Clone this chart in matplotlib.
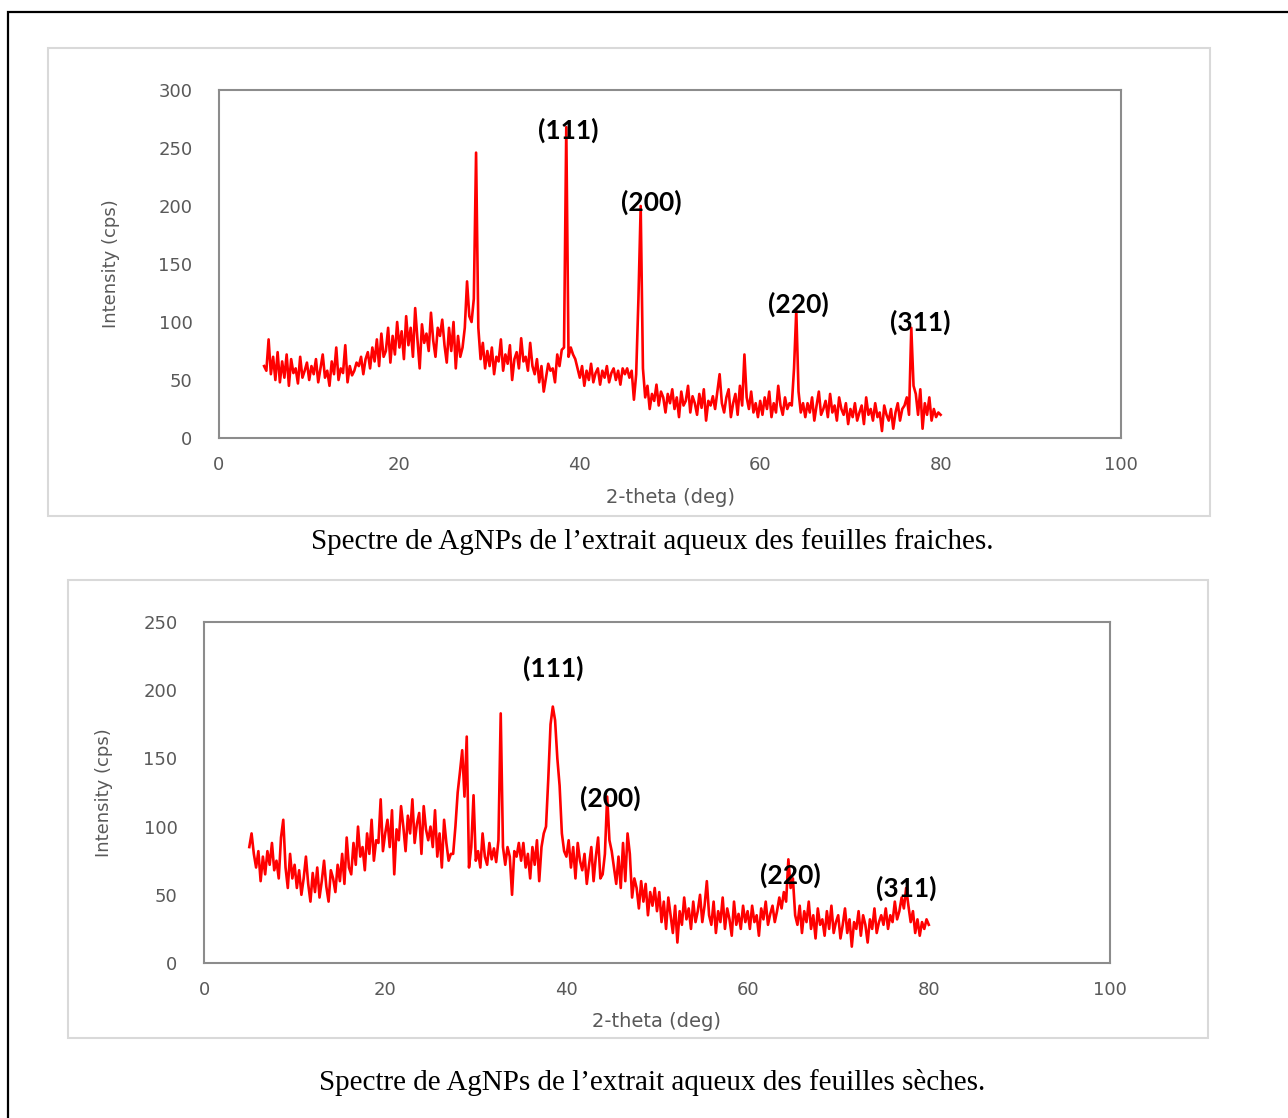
import numpy as np
import matplotlib
matplotlib.use("Agg")
import matplotlib.pyplot as plt
from matplotlib.patches import Rectangle

# 2-theta axis, 5 -> 80 deg, step 0.25
two_theta = np.arange(5, 80.001, 0.25)

# fresh leaves
fraiches = [
    62, 58, 85, 55, 70, 50, 74, 48, 66, 52, 72, 45, 68, 56, 60, 47, 70, 52, 58, 65,
    50, 62, 55, 68, 48, 60, 72, 52, 58, 45, 66, 55, 78, 50, 60, 56, 80, 48, 62, 54,
    58, 65, 62, 70, 55, 68, 74, 60, 78, 66, 85, 62, 90, 70, 75, 95, 65, 88, 72, 100,
    78, 92, 68, 105, 80, 95, 70, 112, 85, 60, 98, 82, 90, 75, 108, 84, 70, 95, 88, 102,
    80, 65, 95, 75, 100, 60, 88, 70, 78, 95, 135, 105, 100, 120, 246, 95, 68, 82, 60, 75,
    62, 78, 55, 70, 66, 85, 58, 72, 64, 80, 50, 68, 74, 60, 86, 66, 70, 58, 82, 62,
    55, 68, 48, 62, 40, 52, 64, 58, 60, 48, 72, 62, 76, 78, 268, 70, 78, 72, 68, 60,
    52, 62, 45, 58, 50, 64, 48, 56, 60, 46, 58, 52, 62, 48, 56, 60, 50, 58, 46, 60,
    55, 60, 52, 58, 33, 55, 120, 200, 60, 35, 45, 25, 38, 32, 46, 28, 40, 35, 22, 38,
    30, 42, 25, 35, 18, 40, 28, 32, 45, 22, 36, 30, 20, 38, 26, 42, 15, 32, 28, 36,
    25, 40, 55, 30, 22, 35, 42, 18, 30, 38, 20, 45, 28, 72, 35, 25, 40, 22, 30, 18,
    32, 20, 35, 25, 40, 18, 30, 22, 45, 28, 20, 35, 25, 30, 28, 60, 110, 40, 22, 30,
    18, 30, 22, 35, 15, 28, 40, 20, 25, 32, 18, 38, 22, 28, 15, 35, 25, 20, 30, 12,
    25, 18, 30, 15, 22, 28, 12, 35, 20, 25, 15, 30, 18, 22, 6, 28, 20, 15, 25, 8,
    22, 30, 15, 25, 28, 35, 20, 95, 45, 38, 20, 42, 8, 30, 20, 35, 15, 25, 18, 22,
    20,
]

# dry leaves
seches = [
    85, 95, 80, 70, 82, 60, 78, 65, 82, 72, 88, 68, 75, 62, 92, 105, 70, 55, 80, 62,
    72, 55, 68, 50, 62, 78, 58, 45, 66, 52, 70, 48, 60, 75, 56, 45, 68, 62, 52, 72,
    60, 80, 58, 92, 70, 65, 88, 72, 100, 78, 85, 68, 95, 80, 105, 75, 90, 88, 120, 82,
    95, 105, 85, 112, 65, 98, 90, 115, 100, 82, 108, 95, 120, 88, 102, 110, 80, 115, 98, 90,
    100, 85, 112, 78, 95, 70, 105, 88, 75, 80, 80, 100, 125, 140, 156, 122, 166, 70, 85, 123,
    75, 82, 70, 95, 78, 72, 88, 76, 84, 74, 90, 183, 85, 72, 85, 78, 50, 82, 78, 88,
    75, 88, 70, 80, 62, 85, 72, 90, 60, 85, 95, 100, 135, 175, 188, 178, 150, 130, 95, 82,
    78, 90, 70, 85, 62, 88, 75, 68, 80, 58, 72, 85, 60, 78, 92, 62, 65, 80, 122, 90,
    82, 70, 58, 78, 55, 88, 60, 95, 80, 48, 62, 55, 40, 60, 45, 58, 35, 52, 42, 55,
    38, 52, 30, 45, 25, 48, 35, 22, 42, 15, 38, 28, 48, 32, 40, 25, 45, 30, 38, 50,
    30, 42, 60, 35, 28, 45, 22, 38, 30, 48, 25, 40, 32, 20, 45, 28, 36, 25, 42, 30,
    38, 25, 42, 30, 35, 20, 40, 32, 45, 28, 36, 42, 30, 38, 48, 40, 52, 45, 76, 55,
    62, 35, 28, 42, 22, 38, 30, 45, 25, 35, 18, 40, 28, 32, 20, 38, 25, 42, 22, 30,
    35, 18, 28, 40, 22, 32, 12, 30, 25, 38, 20, 35, 28, 15, 32, 25, 40, 22, 30, 35,
    28, 40, 25, 35, 30, 45, 32, 38, 48, 40, 55, 42, 30, 38, 22, 32, 20, 30, 25, 32,
    28,
]

hkl = ["(111)", "(200)", "(220)", "(311)"]
pos_fraiches = [(38.7, 265), (47.9, 203), (64.2, 115), (77.7, 100)]
pos_seches = [(38.6, 216), (44.9, 121), (64.7, 64), (77.5, 55)]

W, H = 1288, 1118
fig = plt.figure(figsize=(W / 100, H / 100), dpi=100)

# outer frame of the page
fig.patches.append(Rectangle((8 / W, -0.02), 1.05, 1 - 12 / H + 0.02, transform=fig.transFigure,
                             fill=False, edgecolor="black", linewidth=1.6))
# chart areas
for (x0, y0, x1, y1) in [(48, 48, 1210, 516), (68, 580, 1208, 1038)]:
    fig.patches.append(Rectangle((x0 / W, 1 - y1 / H), (x1 - x0) / W, (y1 - y0) / H,
                                 transform=fig.transFigure, fill=False,
                                 edgecolor="#d9d9d9", linewidth=1.5))

grey = "#595959"


def xrd_plot(rect, y, ymax, labels_pos, ylab_x, xlab_y):
    ax = fig.add_axes(rect)
    ax.plot(two_theta, y, color="#ff0000", linewidth=1.9)
    ax.set_xlim(0, 100)
    ax.set_ylim(0, ymax)
    ax.set_xticks(range(0, 101, 20))
    ax.set_yticks(range(0, ymax + 1, 50))
    for s in ax.spines.values():
        s.set_color("#8c8c8c")
        s.set_linewidth(1.5)
    ax.tick_params(length=0, colors=grey, labelsize=13)
    ax.tick_params(axis="y", pad=19)
    ax.tick_params(axis="x", pad=13)
    ax.set_xlabel("2-theta (deg)", color=grey, fontsize=14)
    ax.xaxis.set_label_coords(0.5, xlab_y)
    ax.set_ylabel("Intensity (cps)", color=grey, fontsize=13,
                  family=["Liberation Sans Narrow", "DejaVu Sans"])
    ax.yaxis.set_label_coords(ylab_x, 0.5)
    for lab, (px, py) in zip(hkl, labels_pos):
        ax.text(px, py, lab, ha="center", va="center", fontsize=19,
                fontweight="bold", family="Lato", color="black")
    return ax


xrd_plot([219 / W, 1 - 438 / H, 902 / W, 348 / H], fraiches, 300, pos_fraiches, -0.11, -0.145)
xrd_plot([204 / W, 1 - 963 / H, 906 / W, 341 / H], seches, 250, pos_seches, -0.10, -0.145)

fig.text(652 / W, 1 - 542 / H, "Spectre de AgNPs de l’extrait aqueux des feuilles fraiches.",
         ha="center", va="center", fontsize=21, family="Liberation Serif")
fig.text(652 / W, 1 - 1082 / H, "Spectre de AgNPs de l’extrait aqueux des feuilles sèches.",
         ha="center", va="center", fontsize=21, family="Liberation Serif")

fig.savefig("out.png", dpi=100)
